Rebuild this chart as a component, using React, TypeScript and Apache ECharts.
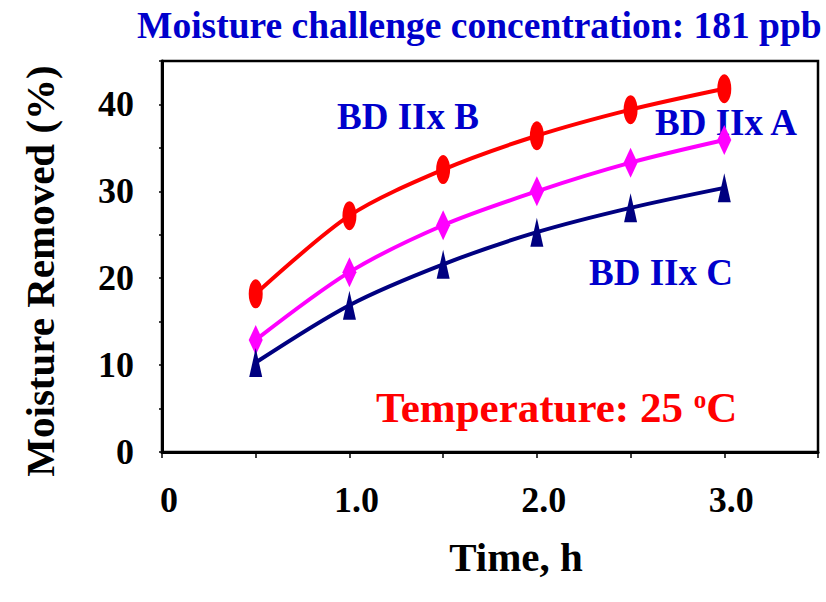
import React, { useEffect, useRef } from "react";
import * as echarts from "echarts";

const timeH = [0.5, 1.0, 1.5, 2.0, 2.5, 3.0];
const bdIIxB = [18.2, 27.2, 32.5, 36.4, 39.4, 41.8];
const bdIIxA = [12.9, 20.7, 26.1, 30.0, 33.3, 35.9];
const bdIIxC = [10.3, 16.9, 21.6, 25.3, 28.1, 30.4];

const FONT = '"Liberation Serif", "Times New Roman", serif';
const BLUE = "#0000CC";

export default function App() {
  const ref = useRef<HTMLDivElement>(null);
  useEffect(() => {
    if (!ref.current) return;
    const chart = echarts.init(ref.current, null, { renderer: "svg" });
    const mk = (ys: number[]) => timeH.map((x, i) => [x, ys[i]]);
    chart.setOption({
      animation: false,
      backgroundColor: "#ffffff",
      title: {
        text: "Moisture challenge concentration: 181 ppb",
        left: 132,
        top: 1,
        textStyle: { fontFamily: FONT, fontWeight: "bold", fontSize: 37.5, color: BLUE },
      },
      grid: {
        left: 162,
        top: 61,
        right: 8,
        bottom: 150,
        show: true,
        borderColor: "#000",
        borderWidth: 2.5,
        backgroundColor: "transparent",
      },
      xAxis: {
        type: "value",
        min: 0,
        max: 3.5,
        interval: 0.5,
        name: "Time, h",
        nameLocation: "middle",
        nameGap: 84,
        nameTextStyle: {
          fontFamily: FONT,
          fontWeight: "bold",
          fontSize: 41,
          color: "#000",
          padding: [0, 0, 0, 52],
        },
        axisLine: { show: true, lineStyle: { color: "#000", width: 3 } },
        axisTick: { show: true, length: 6, lineStyle: { color: "#000", width: 1.5 } },
        splitLine: { show: false },
        axisLabel: {
          fontFamily: FONT,
          fontWeight: "bold",
          fontSize: 36,
          color: "#000",
          margin: 30,
          padding: [0, 0, 0, 14],
          formatter: (v: number) => (v === 0 ? "0" : Math.abs(v % 1) < 1e-9 ? v.toFixed(1) : ""),
        },
      },
      yAxis: {
        type: "value",
        min: 0,
        max: 45,
        interval: 5,
        axisLine: { show: true, lineStyle: { color: "#000", width: 3 } },
        axisTick: { show: true, length: 3, lineStyle: { color: "#000", width: 1.5 } },
        splitLine: { show: false },
        axisLabel: {
          fontFamily: FONT,
          fontWeight: "bold",
          fontSize: 36,
          color: "#000",
          margin: 28,
          formatter: (v: number) => (v % 10 === 0 ? String(v) : ""),
        },
      },
      series: [
        {
          name: "BD IIx B",
          type: "line",
          smooth: 0.3,
          data: mk(bdIIxB),
          symbol: "circle",
          symbolSize: [14, 29],
          lineStyle: { color: "#FF0000", width: 4 },
          itemStyle: { color: "#FF0000" },
          z: 3,
        },
        {
          name: "BD IIx A",
          type: "line",
          smooth: 0.3,
          data: mk(bdIIxA),
          symbol: "diamond",
          symbolSize: [14, 30],
          lineStyle: { color: "#FF00FF", width: 4 },
          itemStyle: { color: "#FF00FF" },
          z: 3,
        },
        {
          name: "BD IIx C",
          type: "line",
          smooth: 0.3,
          data: mk(bdIIxC),
          symbol: "triangle",
          symbolSize: [13, 29],
          lineStyle: { color: "#000080", width: 4 },
          itemStyle: { color: "#000080" },
          z: 3,
        },
      ],
      graphic: [
        {
          type: "text",
          x: 40,
          y: 271,
          rotation: Math.PI / 2,
          style: {
            text: "Moisture Removed (%)",
            font: `bold 41px ${FONT}`,
            fill: "#000",
            align: "center",
            verticalAlign: "middle",
          },
        },
        {
          type: "text",
          x: 337,
          y: 116,
          style: { text: "BD IIx B", font: `bold 37px ${FONT}`, fill: BLUE, verticalAlign: "middle" },
        },
        {
          type: "text",
          x: 655,
          y: 122,
          z: 0,
          style: { text: "BD IIx A", font: `bold 37px ${FONT}`, fill: BLUE, verticalAlign: "middle" },
        },
        {
          type: "text",
          x: 589,
          y: 272,
          style: { text: "BD IIx C", font: `bold 37px ${FONT}`, fill: BLUE, verticalAlign: "middle" },
        },
        {
          type: "text",
          x: 376,
          y: 407,
          style: {
            text: "{a|Temperature: 25 }{s|o}{a|C}",
            verticalAlign: "middle",
            rich: {
              a: { fontFamily: FONT, fontWeight: "bold", fontSize: 43, fill: "#FF0000", color: "#FF0000" },
              s: {
                fontFamily: FONT,
                fontWeight: "bold",
                fontSize: 25,
                color: "#FF0000",
                fill: "#FF0000",
                padding: [0, 0, 16, 0],
              },
            },
          },
        },
      ],
    });
    return () => chart.dispose();
  }, []);
  return (
    <div
      ref={ref}
      style={{ position: "fixed", left: 0, top: 0, width: 826, height: 602, background: "#fff" }}
    />
  );
}
